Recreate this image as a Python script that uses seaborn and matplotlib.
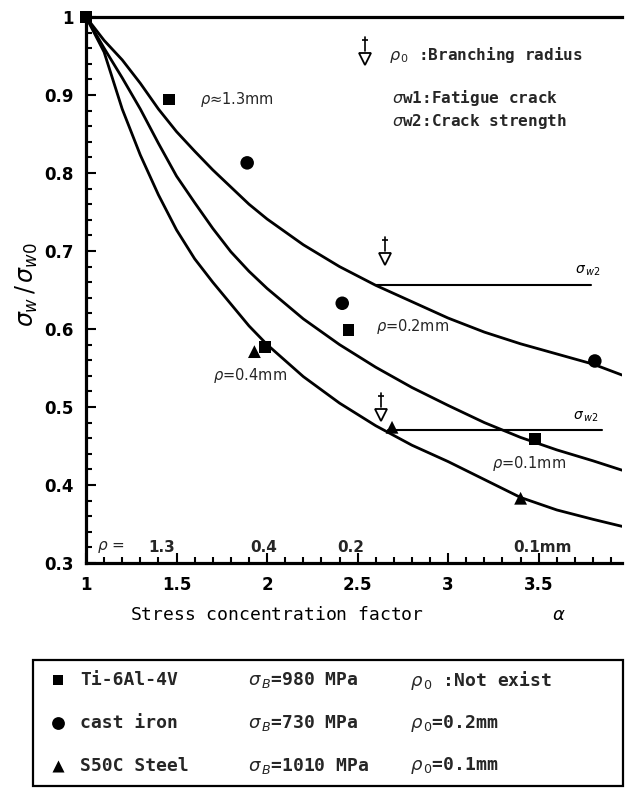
import numpy as np
import pandas as pd
import matplotlib
matplotlib.use("Agg")
import matplotlib.pyplot as plt
import seaborn as sns
from matplotlib.patches import Rectangle
from matplotlib.ticker import MultipleLocator

# ---------------- data ----------------
curve_alpha = [1.0, 1.1, 1.2, 1.3, 1.4, 1.5, 1.6, 1.7, 1.8, 1.9, 2.0, 2.2, 2.4, 2.6,
               2.8, 3.0, 3.2, 3.4, 3.6, 3.8, 3.96]
curve_rho13 = [1.0, 0.970, 0.945, 0.915, 0.882, 0.853, 0.828, 0.804, 0.782, 0.760, 0.741,
               0.708, 0.680, 0.656, 0.635, 0.614, 0.596, 0.581, 0.568, 0.555, 0.541]
curve_mid = [1.0, 0.960, 0.922, 0.882, 0.838, 0.796, 0.762, 0.729, 0.699, 0.674, 0.652,
             0.613, 0.580, 0.551, 0.525, 0.502, 0.480, 0.461, 0.445, 0.431, 0.419]
curve_low = [1.0, 0.955, 0.882, 0.823, 0.772, 0.727, 0.690, 0.660, 0.632, 0.604, 0.580,
             0.539, 0.505, 0.476, 0.451, 0.430, 0.407, 0.384, 0.368, 0.356, 0.347]

ti_alpha = [1.0, 1.46, 1.99, 2.45, 3.48]
ti_ratio = [1.0, 0.894, 0.577, 0.599, 0.459]
ci_alpha = [1.89, 2.415, 3.81]
ci_ratio = [0.813, 0.633, 0.559]
st_alpha = [1.93, 2.69, 3.40]
st_ratio = [0.571, 0.474, 0.383]

sw2_level = [0.656, 0.470]
sw2_start = [2.60, 2.67]
sw2_end = [3.79, 3.85]
sw2_label_alpha = [3.70, 3.69]

branch_alpha = [2.65, 2.63]          # rho_0 arrows
branch_ratio = [0.690, 0.490]

materials = ["Ti-6Al-4V", "cast iron", "S50C Steel"]
strengths = ["980", "730", "1010"]
rho0_text = [" :Not exist", "=0.2mm", "=0.1mm"]

rho_axis_labels = ["1.3", "0.4", "0.2", "0.1mm"]
rho_axis_alpha = [1.42, 1.98, 2.46, 3.52]

x_ticks = [1, 1.5, 2, 2.5, 3, 3.5]
x_ticklabels = ["1", "1.5", "2", "2.5", "3", "3.5"]
y_ticks = [0.3, 0.4, 0.5, 0.6, 0.7, 0.8, 0.9, 1.0]
y_ticklabels = ["0.3", "0.4", "0.5", "0.6", "0.7", "0.8", "0.9", "1"]

# ---------------- frames ----------------
curves = pd.concat([
    pd.DataFrame({"alpha": curve_alpha, "ratio": curve_rho13, "curve": "A"}),
    pd.DataFrame({"alpha": curve_alpha, "ratio": curve_mid, "curve": "B"}),
    pd.DataFrame({"alpha": curve_alpha, "ratio": curve_low, "curve": "C"}),
], ignore_index=True)

points = pd.DataFrame({
    "alpha": ti_alpha + ci_alpha + st_alpha,
    "ratio": ti_ratio + ci_ratio + st_ratio,
    "material": [materials[0]] * len(ti_alpha) + [materials[1]] * len(ci_alpha)
                + [materials[2]] * len(st_alpha),
})

sns.set_theme(style="ticks")
plt.rcParams["font.family"] = ["DejaVu Sans"]
plt.rcParams["mathtext.fontset"] = "dejavusans"

fig = plt.figure(figsize=(6.25, 7.88), dpi=100)
ax = fig.add_axes([86 / 625, 1 - 563 / 788, 536 / 625, 546 / 788])

sns.lineplot(data=curves, x="alpha", y="ratio", units="curve", estimator=None,
             sort=False, color="black", lw=2.0, ax=ax)

marker_map = {materials[0]: "s", materials[1]: "o", materials[2]: "^"}
size_map = {materials[0]: 70, materials[1]: 95, materials[2]: 85}
sns.scatterplot(data=points, x="alpha", y="ratio", style="material", markers=marker_map,
                size="material", sizes=size_map, color="black", linewidth=0,
                legend=False, ax=ax, clip_on=False, zorder=5)

for lvl, x0, x1, lxp in zip(sw2_level, sw2_start, sw2_end, sw2_label_alpha):
    ax.plot([x0, x1], [lvl, lvl], color="black", lw=1.5)
    ax.text(lxp, lvl + 0.018, r"$\sigma_{\,w2}$", fontsize=10, color="black",
            ha="left", va="center")

for bx, by in zip(branch_alpha, branch_ratio):
    ax.plot([bx, bx], [by + 0.01, by + 0.028], color="black", lw=1.2)
    ax.plot([bx], [by + 0.024], marker="_", ms=5, mew=1.2, color="black")
    ax.plot([bx], [by], marker="v", ms=8, mfc="white", mec="black", mew=1.3)

# legend-like annotations in the top right
lx, ly = 2.54, 0.946
ax.plot([lx, lx], [ly + 0.01, ly + 0.028], color="black", lw=1.2)
ax.plot([lx], [ly + 0.024], marker="_", ms=5, mew=1.2, color="black")
ax.plot([lx], [ly], marker="v", ms=8, mfc="white", mec="black", mew=1.3)
mono = {"family": "DejaVu Sans Mono", "size": 11.5, "weight": "bold"}
ax.text(2.675, 0.951, r"$\rho_{\,0}$ :Branching radius", fontdict=mono, va="center")
ax.text(2.69, 0.896, r"$\sigma$w1:Fatigue crack", fontdict=mono, va="center")
ax.text(2.69, 0.866, r"$\sigma$w2:Crack strength", fontdict=mono, va="center")

# radius annotations
ann = {"size": 10.5}
ax.text(1.63, 0.894, r"$\rho$≈1.3mm", fontdict=ann, va="center")
ax.text(2.60, 0.603, r"$\rho$=0.2mm", fontdict=ann, va="center")
ax.text(1.70, 0.541, r"$\rho$=0.4mm", fontdict=ann, va="center")
ax.text(3.24, 0.428, r"$\rho$=0.1mm", fontdict=ann, va="center")

ax.text(1.06, 0.320, r"$\rho$ =", fontsize=11, va="center", ha="left")
for lab, xa in zip(rho_axis_labels, rho_axis_alpha):
    ax.text(xa, 0.320, lab, fontsize=11, va="center", ha="center", fontweight="bold")

# axes styling
ax.set_xlim(1.0, 3.96)
ax.set_ylim(0.3, 1.0)
ax.set_xticks(x_ticks, x_ticklabels, fontweight="bold", fontsize=12)
ax.set_yticks(y_ticks, y_ticklabels, fontweight="bold", fontsize=12)
ax.xaxis.set_minor_locator(MultipleLocator(0.1))
ax.yaxis.set_minor_locator(MultipleLocator(0.02))
ax.tick_params(which="both", direction="in", width=1.5, color="black",
               labelcolor="black", top=False, right=False)
ax.tick_params(which="major", length=7, pad=9)
ax.tick_params(which="minor", length=4)
for side in ["left", "bottom", "top"]:
    ax.spines[side].set_linewidth(2.3)
    ax.spines[side].set_color("black")
ax.spines["right"].set_visible(False)
ax.set_facecolor("white")

ax.set_xlabel("Stress concentration factor" + " " * 12 + r"$\alpha$",
              fontfamily="DejaVu Sans Mono", fontsize=13, color="black")
ax.xaxis.set_label_coords(0.489, -0.079)
ax.set_ylabel(r"$\sigma_{w}\,/\,\sigma_{w0}$", fontsize=17, color="black")
ax.yaxis.set_label_coords(-0.085, 0.51)

# ---------------- material legend box ----------------
lax = fig.add_axes([0, 0, 1, 1])
lax.set_xlim(0, 625)
lax.set_ylim(788, 0)
lax.axis("off")
lax.add_patch(Rectangle((33, 660), 590, 126, fill=False, lw=1.6, ec="black"))
row_y = [680, 723, 766]
leg_markers = ["s", "o", "^"]
leg_sizes = [60, 85, 75]
legfont = {"family": "DejaVu Sans Mono", "size": 13, "weight": "bold"}
for yy, mk, sz, name, sb, r0 in zip(row_y, leg_markers, leg_sizes, materials,
                                    strengths, rho0_text):
    lax.scatter([58], [yy], marker=mk, s=sz, color="black", linewidth=0)
    lax.text(80, yy, name, fontdict=legfont, va="center", ha="left")
    lax.text(248, yy, r"$\sigma_{\,B}$=" + sb + " MPa", fontdict=legfont,
             va="center", ha="left")
    lax.text(410, yy, r"$\rho_{\,0}$" + r0, fontdict=legfont, va="center", ha="left")

fig.savefig("out.png", dpi=100, facecolor="white")
